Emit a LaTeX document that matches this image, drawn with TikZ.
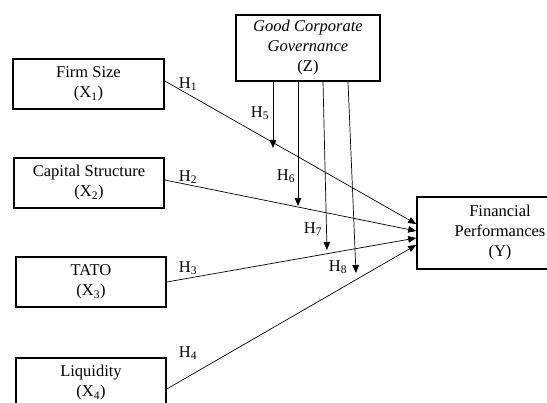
\documentclass[tikz,border=0pt]{standalone}
\usepackage{fontspec}
\setmainfont{Liberation Serif}
\usetikzlibrary{arrows.meta,calc}
\begin{document}
\begin{tikzpicture}[x=1pt,y=-1pt,
  box/.style={draw,line width=1.6pt,inner sep=0pt,align=center,font=\fontsize{16.5}{20}\selectfont},
  lab/.style={font=\fontsize{16.5}{20}\selectfont,inner sep=0pt},
  arr/.style={line width=0.7pt,-{Triangle[length=8pt,width=6.5pt]}}]
\useasboundingbox (0,0) rectangle (547,403);
\clip (0,0) rectangle (547,403);
\node[box,minimum width=151pt,minimum height=50pt] (x1) at (88.5,84) {Firm Size\\(X\textsubscript{1})};
\node[box,minimum width=150pt,minimum height=50pt] (x2) at (89,183) {Capital Structure\\(X\textsubscript{2})};
\node[box,minimum width=150pt,minimum height=50pt] (x3) at (91,282) {TATO\\(X\textsubscript{3})};
\node[box,minimum width=150pt,minimum height=50pt] (x4) at (91,383) {Liquidity\\(X\textsubscript{4})};
\node[box,minimum width=166pt,minimum height=72pt] (y) at (500,233) {Financial\\Performances\\(Y)};
\node[box,minimum width=144pt,minimum height=66pt] (z) at (308,48) {\textit{Good Corporate}\\\textit{Governance}\\(Z)};
\coordinate (e5) at (273,148);
\coordinate (e6) at (298,206);
\coordinate (e7) at (327,250);
\coordinate (e8) at (356,273);
\draw[arr] ([yshift=3pt]x1.east) -- ([yshift=9pt]y.west);
\draw[arr] ([yshift=3pt]x2.east) -- ([yshift=2pt]y.west);
\draw[arr] (x3.east) -- ([yshift=-5pt]y.west);
\draw[arr] ([yshift=-6pt]x4.east) -- ([yshift=-12pt]y.west);
\draw[arr] ([xshift=-35pt]z.south) -- (e5);
\draw[arr] ([xshift=-10pt]z.south) -- (e6);
\draw[arr] ([xshift=15pt]z.south) -- (e7);
\draw[arr] ([xshift=40pt]z.south) -- (e8);
\node[lab] (h1) at (188,84) {H\textsubscript{1}};
\node[lab] (h2) at (188,177) {H\textsubscript{2}};
\node[lab] (h3) at (188,268) {H\textsubscript{3}};
\node[lab] (h4) at (188,353) {H\textsubscript{4}};
\node[lab] (h5) at (260,113) {H\textsubscript{5}};
\node[lab] (h6) at (286,176) {H\textsubscript{6}};
\node[lab] (h7) at (313,229) {H\textsubscript{7}};
\node[lab] (h8) at (338,267) {H\textsubscript{8}};
\end{tikzpicture}
\end{document}
